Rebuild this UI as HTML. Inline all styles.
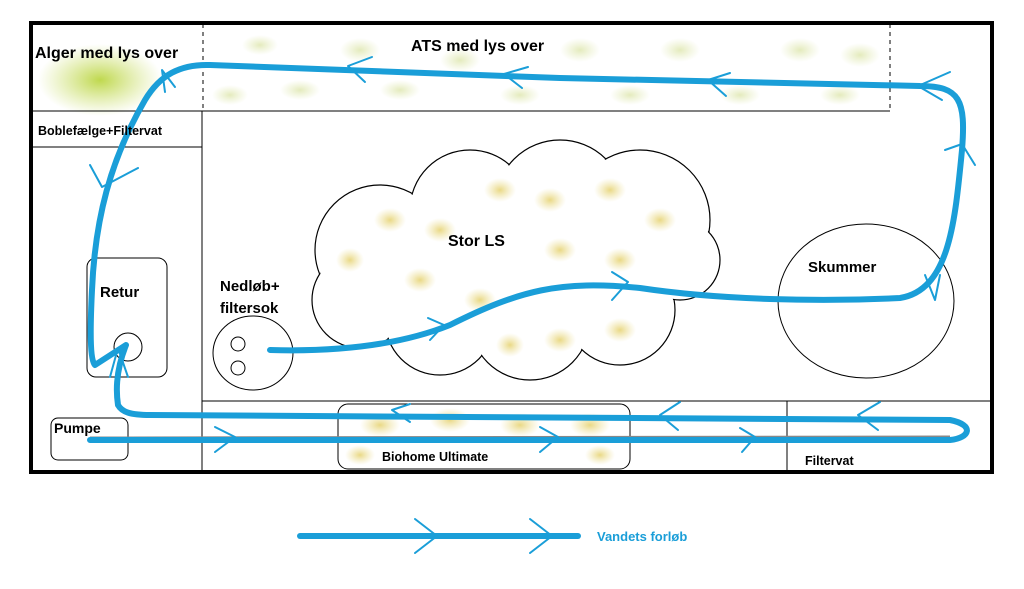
<!DOCTYPE html>
<html><head><meta charset="utf-8"><style>
html,body{margin:0;padding:0;background:#fff;}
svg{display:block;font-family:"Liberation Sans",Arial,sans-serif;font-weight:bold;}
</style></head><body>
<svg width="1024" height="589" viewBox="0 0 1024 589" xmlns="http://www.w3.org/2000/svg">
<defs>
<radialGradient id="g1"><stop offset="0" stop-color="#b8d43a" stop-opacity="0.9"/><stop offset="1" stop-color="#c8dc60" stop-opacity="0"/></radialGradient>
<radialGradient id="y1"><stop offset="0" stop-color="#e0c850" stop-opacity="0.7"/><stop offset="1" stop-color="#e8d880" stop-opacity="0"/></radialGradient>
<radialGradient id="a1"><stop offset="0" stop-color="#d8e2a0" stop-opacity="0.7"/><stop offset="1" stop-color="#e0e8b0" stop-opacity="0"/></radialGradient>
</defs>
<ellipse cx="100" cy="80" rx="62" ry="36" fill="url(#g1)"/>
<g fill="url(#a1)">
<ellipse cx="260" cy="45" rx="18" ry="10"/><ellipse cx="300" cy="90" rx="20" ry="10"/><ellipse cx="360" cy="50" rx="20" ry="12"/>
<ellipse cx="400" cy="90" rx="20" ry="10"/><ellipse cx="460" cy="60" rx="20" ry="12"/><ellipse cx="520" cy="95" rx="20" ry="10"/>
<ellipse cx="580" cy="50" rx="20" ry="12"/><ellipse cx="630" cy="95" rx="20" ry="10"/><ellipse cx="680" cy="50" rx="20" ry="12"/>
<ellipse cx="740" cy="95" rx="20" ry="10"/><ellipse cx="800" cy="50" rx="20" ry="12"/><ellipse cx="840" cy="95" rx="20" ry="10"/>
<ellipse cx="860" cy="55" rx="20" ry="12"/><ellipse cx="230" cy="95" rx="18" ry="10"/>
</g>
<rect x="31" y="23" width="961" height="449" fill="none" stroke="#000" stroke-width="4"/>
<line x1="31" y1="111" x2="890" y2="111" stroke="#000" stroke-width="1"/>
<line x1="203" y1="24" x2="203" y2="111" stroke="#000" stroke-dasharray="4,4"/>
<line x1="890" y1="24" x2="890" y2="111" stroke="#000" stroke-dasharray="4,4"/>
<line x1="31" y1="147" x2="202" y2="147" stroke="#000"/>
<line x1="202" y1="111" x2="202" y2="472" stroke="#000"/>
<line x1="202" y1="401" x2="992" y2="401" stroke="#000"/>
<line x1="787" y1="401" x2="787" y2="472" stroke="#000"/>
<g fill="#fff" stroke="#000" stroke-width="1.2">
<circle cx="380" cy="250" r="65"/><circle cx="470" cy="210" r="60"/><circle cx="560" cy="205" r="65"/><circle cx="640" cy="220" r="70"/>
<circle cx="360" cy="300" r="48"/><circle cx="440" cy="320" r="55"/><circle cx="530" cy="320" r="60"/><circle cx="620" cy="310" r="55"/>
<circle cx="680" cy="260" r="40"/>
</g>
<g fill="#fff">
<circle cx="380" cy="250" r="64"/><circle cx="470" cy="210" r="59"/><circle cx="560" cy="205" r="64"/><circle cx="640" cy="220" r="69"/>
<circle cx="360" cy="300" r="47"/><circle cx="440" cy="320" r="54"/><circle cx="530" cy="320" r="59"/><circle cx="620" cy="310" r="54"/>
<circle cx="680" cy="260" r="39"/>
<ellipse cx="520" cy="265" rx="140" ry="60"/>
</g>
<g fill="url(#y1)">
<ellipse cx="390" cy="220" rx="16" ry="12"/><ellipse cx="440" cy="230" rx="16" ry="12"/><ellipse cx="500" cy="190" rx="16" ry="12"/><ellipse cx="550" cy="200" rx="16" ry="12"/>
<ellipse cx="610" cy="190" rx="16" ry="12"/><ellipse cx="660" cy="220" rx="16" ry="12"/><ellipse cx="420" cy="280" rx="16" ry="12"/><ellipse cx="480" cy="300" rx="16" ry="12"/>
<ellipse cx="560" cy="250" rx="16" ry="12"/><ellipse cx="620" cy="260" rx="16" ry="12"/><ellipse cx="560" cy="340" rx="16" ry="12"/><ellipse cx="620" cy="330" rx="16" ry="12"/>
<ellipse cx="350" cy="260" rx="14" ry="12"/><ellipse cx="510" cy="345" rx="14" ry="12"/>
</g>
<rect x="87" y="258" width="80" height="119" rx="9" fill="none" stroke="#000"/>
<circle cx="128" cy="347" r="14" fill="none" stroke="#000"/>
<rect x="51" y="418" width="77" height="42" rx="7" fill="none" stroke="#000"/>
<rect x="338" y="404" width="292" height="65" rx="10" fill="none" stroke="#000"/>
<g fill="url(#y1)"><ellipse cx="380" cy="425" rx="20" ry="12"/><ellipse cx="450" cy="420" rx="20" ry="12"/><ellipse cx="520" cy="425" rx="20" ry="12"/><ellipse cx="590" cy="425" rx="20" ry="12"/><ellipse cx="600" cy="455" rx="15" ry="10"/><ellipse cx="360" cy="455" rx="15" ry="10"/></g>
<ellipse cx="253" cy="353" rx="40" ry="37" fill="none" stroke="#000"/>
<circle cx="238" cy="344" r="7" fill="none" stroke="#000"/>
<circle cx="238" cy="368" r="7" fill="none" stroke="#000"/>
<ellipse cx="866" cy="301" rx="88" ry="77" fill="none" stroke="#000"/>
<line x1="90" y1="438" x2="950" y2="437" stroke="#888" stroke-width="3"/>
<g fill="none" stroke="#1a9ed8" stroke-linecap="round" stroke-linejoin="round">
<path stroke-width="6" d="M270 350 C340 352 400 345 450 325 C520 290 560 280 640 288 C720 300 820 302 900 298 C950 290 955 220 962 150 C966 100 960 86 920 86 L560 78 L210 65 C180 64 160 75 145 100 C110 160 95 220 92 290 C90 330 90 360 95 365 L126 345 C118 365 115 385 118 405 C122 412 130 415 150 415 L950 420 C975 425 970 438 950 440 L90 440"/>
<path stroke-width="6" d="M300 536 L578 536"/>
<g stroke-width="2">
<path d="M372 57 L348 66 L365 82"/><path d="M528 67 L504 74 L522 88"/><path d="M730 73 L708 80 L726 96"/>
<path d="M950 72 L918 86 L942 100"/>
<path d="M175 87 L162 70 L165 92"/>
<path d="M90 165 L102 187 L138 168"/>
<path d="M945 150 L962 144 L975 165"/>
<path d="M925 275 L935 300 L940 275"/>
<path d="M428 318 L444 325 L430 340"/>
<path d="M612 272 L628 282 L612 300"/>
<path d="M110 377 L118 348 L128 377"/>
<path d="M410 404 L392 410 L410 422"/><path d="M680 402 L660 415 L678 430"/><path d="M880 402 L858 415 L878 430"/>
<path d="M215 427 L235 437 L215 452"/><path d="M540 427 L558 437 L540 452"/><path d="M740 428 L755 437 L742 452"/>
<path d="M415 519 L437 536 L415 553"/><path d="M530 519 L552 536 L530 553"/>
</g>
</g>
<g fill="#000">
<text x="35" y="58" font-size="16">Alger med lys over</text>
<text x="411" y="51" font-size="16">ATS med lys over</text>
<text x="38" y="135" font-size="12.5">Boblefælge+Filtervat</text>
<text x="448" y="246" font-size="16">Stor LS</text>
<text x="808" y="272" font-size="15">Skummer</text>
<text x="100" y="297" font-size="15">Retur</text>
<text x="220" y="291" font-size="15">Nedløb+</text>
<text x="220" y="313" font-size="15">filtersok</text>
<text x="54" y="433" font-size="14">Pumpe</text>
<text x="382" y="461" font-size="12.5">Biohome Ultimate</text>
<text x="805" y="465" font-size="12.5">Filtervat</text>
</g>
<text x="597" y="541" font-size="13" fill="#1a9ed8">Vandets forløb</text>
</svg>
</body></html>
